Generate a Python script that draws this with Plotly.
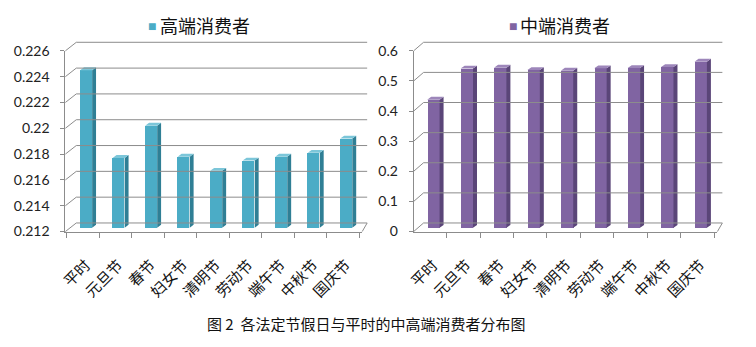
import plotly.graph_objects as go

categories = ["平时", "元旦节", "春节", "妇女节", "清明节", "劳动节", "端午节", "中秋节", "国庆节"]
high_values = [0.2245, 0.2177, 0.2202, 0.2178, 0.2167, 0.2175, 0.2178, 0.2181, 0.2192]
mid_values = [0.438, 0.541, 0.544, 0.536, 0.534, 0.542, 0.543, 0.546, 0.564]
high_ticks = [0.212, 0.214, 0.216, 0.218, 0.22, 0.222, 0.224, 0.226]
high_ticktext = ["0.212", "0.214", "0.216", "0.218", "0.22", "0.222", "0.224", "0.226"]
mid_ticks = [0, 0.1, 0.2, 0.3, 0.4, 0.5, 0.6]
mid_ticktext = ["0", "0.1", "0.2", "0.3", "0.4", "0.5", "0.6"]
series_names = ["高端消费者", "中端消费者"]
caption = "图 2  各法定节假日与平时的中高端消费者分布图"

W, H = 756, 347
BAR_W = 0.37
DX = 0.12
grid = "#8C8C8C"
n = len(categories)

# pixel layout (front plane and back wall)
FRONT_TOP, FRONT_BOT = 44, 234
BACK_TOP, BACK_BOT = 35, 225
SPAN = FRONT_BOT - FRONT_TOP
DEPTH_Y = FRONT_BOT - BACK_BOT
panels = [
    dict(front=(58, 358), back=(69, 363), xrng=[-0.638, 8.49], yrng=[0.212, 0.226]),
    dict(front=(410, 717), back=(420, 722), xrng=[-0.59, 8.5], yrng=[0.0, 0.6]),
]

fig = go.Figure()

def add_panel(values, xa, ya, front, side, top, ymin, base_off, dy):
    xs = list(range(len(values)))
    b = ymin + base_off
    fig.add_trace(go.Bar(x=xs, y=[v - b for v in values], base=b, width=BAR_W,
                         marker=dict(color=front, line=dict(width=0)),
                         xaxis=xa, yaxis=ya, showlegend=False, hoverinfo="skip"))
    sx, sy, tx, ty = [], [], [], []
    for i, v in enumerate(values):
        r = i + BAR_W / 2
        l = i - BAR_W / 2
        sx += [r, r + DX, r + DX, r, r, None]
        sy += [b, b + dy, v + dy, v, b, None]
        tx += [l, r, r + DX, l + DX, l, None]
        ty += [v, v, v + dy, v + dy, v, None]
    fig.add_trace(go.Scatter(x=sx, y=sy, fill="toself", fillcolor=side, mode="lines",
                             line=dict(width=0, color=side), xaxis=xa, yaxis=ya,
                             showlegend=False, hoverinfo="skip"))
    fig.add_trace(go.Scatter(x=tx, y=ty, fill="toself", fillcolor=top, mode="lines",
                             line=dict(width=0, color=top), xaxis=xa, yaxis=ya,
                             showlegend=False, hoverinfo="skip"))

add_panel(high_values, "x", "y", "#4BACC6", "#2F7F95", "#7CC6D9", 0.212, 0.0003, 0.00022)
add_panel(mid_values, "x2", "y2", "#8064A2", "#5A4578", "#9D86BA", 0.0, 0.0126, 0.0095)

# 3D back-wall grid (decor subplots x3/y3 and x4/y4)
decor_axes = {}
for k, (p, ticks) in enumerate(zip(panels, [high_ticks, mid_ticks])):
    xa, ya = ("x3", "y3") if k == 0 else ("x4", "y4")
    unit = (p["yrng"][1] - p["yrng"][0]) / SPAN
    delta = DEPTH_Y * unit
    pad = 2
    ymin = p["yrng"][0]
    cx, cy = [], []
    for t in ticks:
        cx += [p["front"][0], p["back"][0], p["back"][1], None]
        cy += [t - delta, t, t, None]
    cx += [p["front"][1], p["back"][1], None]
    cy += [ymin - delta, ymin, None]
    fig.add_trace(go.Scatter(x=cx, y=cy, mode="lines", line=dict(color=grid, width=1),
                             xaxis=xa, yaxis=ya, showlegend=False, hoverinfo="skip"))
    x0, x1 = p["front"][0] - pad, p["back"][1] + pad
    decor_axes["xaxis" + xa[1:]] = dict(domain=[x0 / W, x1 / W], range=[x0, x1],
                                         anchor=ya, visible=False, fixedrange=True)
    decor_axes["yaxis" + ya[1:]] = dict(domain=[1 - (FRONT_BOT + pad) / H, 1 - (BACK_TOP - pad) / H],
                                         range=[ymin - delta - pad * unit, p["yrng"][1] + pad * unit],
                                         anchor=xa, visible=False, fixedrange=True)

tickfont = dict(family="Lato, 'Noto Sans', sans-serif", size=14, color="#222222")
xfont = dict(family="'Noto Sans CJK SC', sans-serif", size=15, color="#111111")
minor_vals = [k - 0.6 for k in range(n + 1)]
front_ydom = [1 - FRONT_BOT / H, 1 - FRONT_TOP / H]

def front_x(p, anchor):
    return dict(domain=[p["front"][0] / W, p["front"][1] / W], anchor=anchor, range=p["xrng"],
                tickvals=list(range(n)), ticktext=categories, tickangle=-45,
                tickfont=xfont, ticks="", showline=True, linecolor=grid, linewidth=1,
                showgrid=False, zeroline=False, ticklabelstandoff=18,
                minor=dict(tickvals=minor_vals, ticks="outside", ticklen=5, tickcolor=grid,
                           showgrid=False))

def front_y(p, anchor, tv, tt):
    return dict(domain=front_ydom, anchor=anchor, range=p["yrng"], tickvals=tv, ticktext=tt,
                tickfont=tickfont, ticks="outside", ticklen=4, tickcolor=grid,
                showline=True, linecolor=grid, linewidth=1, showgrid=False,
                zeroline=False, ticklabelstandoff=8)

fig.update_layout(
    width=W, height=H, margin=dict(l=0, r=0, t=0, b=0),
    paper_bgcolor="white", plot_bgcolor="rgba(0,0,0,0)", bargap=0,
    xaxis=front_x(panels[0], "y"),
    yaxis=front_y(panels[0], "x", high_ticks, high_ticktext),
    xaxis2=front_x(panels[1], "y2"),
    yaxis2=front_y(panels[1], "x2", mid_ticks, mid_ticktext),
    **decor_axes,
)

legfont = dict(family="'Noto Sans CJK SC', sans-serif", size=18, color="#111111")
fig.add_annotation(x=153 / W, y=1 - 17 / H, xref="paper", yref="paper", xanchor="left",
                   yanchor="middle", text=series_names[0], showarrow=False, font=legfont,
                   borderpad=0)
fig.add_annotation(x=151 / W, y=1 - 17 / H, xref="paper", yref="paper", xanchor="right",
                   yanchor="middle", text="■", showarrow=False, borderpad=0,
                   font=dict(size=14, color="#4BACC6"))
fig.add_annotation(x=516 / W, y=1 - 17 / H, xref="paper", yref="paper", xanchor="left",
                   yanchor="middle", text=series_names[1], showarrow=False, font=legfont,
                   borderpad=0)
fig.add_annotation(x=515 / W, y=1 - 17 / H, xref="paper", yref="paper", xanchor="right",
                   yanchor="middle", text="■", showarrow=False, borderpad=0,
                   font=dict(size=14, color="#8064A2"))
fig.add_annotation(x=362 / W, y=1 - 331 / H, xref="paper", yref="paper", xanchor="center",
                   yanchor="middle", text=caption, showarrow=False,
                   font=dict(family="'Noto Sans CJK SC', sans-serif", size=15, color="#111111"))

fig.write_html("out.html", post_script="document.body.style.margin='0';")
